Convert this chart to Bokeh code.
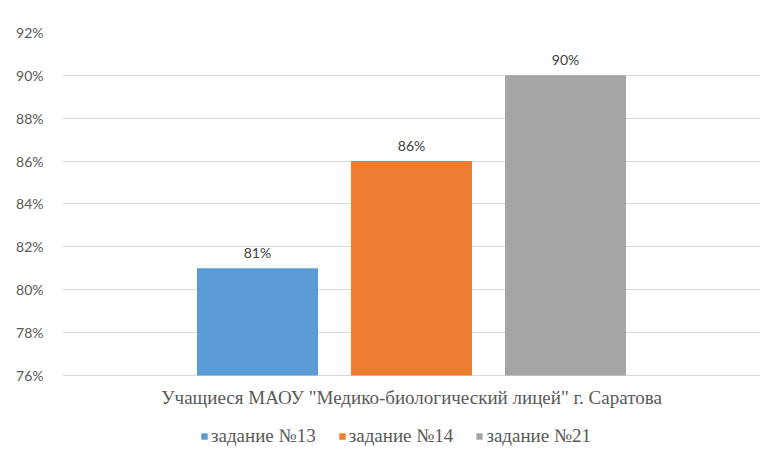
from bokeh.plotting import figure
from bokeh.models import (ColumnDataSource, Range1d, FixedTicker, PrintfTickFormatter,
                          Legend, LegendItem, LabelSet, Label)
from bokeh.core.properties import value
from bokeh.embed import file_html
from bokeh.resources import INLINE

category = 'Учащиеся МАОУ "Медико-биологический лицей" г. Саратова'
series = ["задание №13", "задание №14", "задание №21"]
values = [81, 86, 90]
labels = ["81%", "86%", "90%"]
colors = ["#5B9BD5", "#ED7D31", "#A5A5A5"]
y_ticks = [76, 78, 80, 82, 84, 86, 88, 90, 92]
y_base = 76
category_pos = 2

positions = [1, 2, 3]
src = ColumnDataSource(dict(x=positions, top=values, color=colors, series=series, label=labels))

p = figure(width=760, height=447, output_backend="svg", toolbar_location=None,
           x_range=Range1d(-0.266, 4.266), y_range=Range1d(72.64, 92),
           min_border_left=62, min_border_right=0, min_border_top=32, min_border_bottom=0)
p.outline_line_color = None
p.background_fill_color = "white"
p.border_fill_color = "white"
p.xaxis.visible = False

r = p.vbar(x="x", top="top", bottom=y_base, width=0.786, fill_color="color",
           line_color=None, source=src)

p.add_layout(LabelSet(x="x", y="top", text="label", source=src, text_align="center",
                      text_baseline="bottom", y_offset=7, text_font=value("Lato"),
                      text_font_size=value("14px"), text_color="#404040"))

p.add_layout(Label(x=category_pos, y=y_base, text=category, y_offset=-22,
                   text_align="center", text_baseline="middle",
                   text_font="Liberation Serif", text_font_size="19px",
                   text_color="#595959"))

p.yaxis.ticker = FixedTicker(ticks=y_ticks)
p.yaxis.formatter = PrintfTickFormatter(format="%d%%")
p.yaxis.axis_line_color = None
p.yaxis.major_tick_line_color = None
p.yaxis.minor_tick_line_color = None
p.yaxis.major_label_standoff = 13
p.yaxis.major_label_text_font = "Lato"
p.yaxis.major_label_text_font_size = "14px"
p.yaxis.major_label_text_color = "#595959"

p.xgrid.grid_line_color = None
p.ygrid.ticker = FixedTicker(ticks=y_ticks)
p.ygrid.grid_line_color = "#D9D9D9"

items = [LegendItem(label=s, renderers=[r], index=i) for i, s in enumerate(series)]
legend = Legend(items=items, orientation="horizontal", location=(138, 0),
                label_text_font="Liberation Serif", label_text_font_size="19px",
                label_text_color="#595959", glyph_width=8, glyph_height=8,
                label_standoff=3, spacing=22, border_line_color=None,
                background_fill_alpha=0, margin=0, padding=1)
p.add_layout(legend, "center")

open("out.html", "w").write(file_html(p, INLINE))
